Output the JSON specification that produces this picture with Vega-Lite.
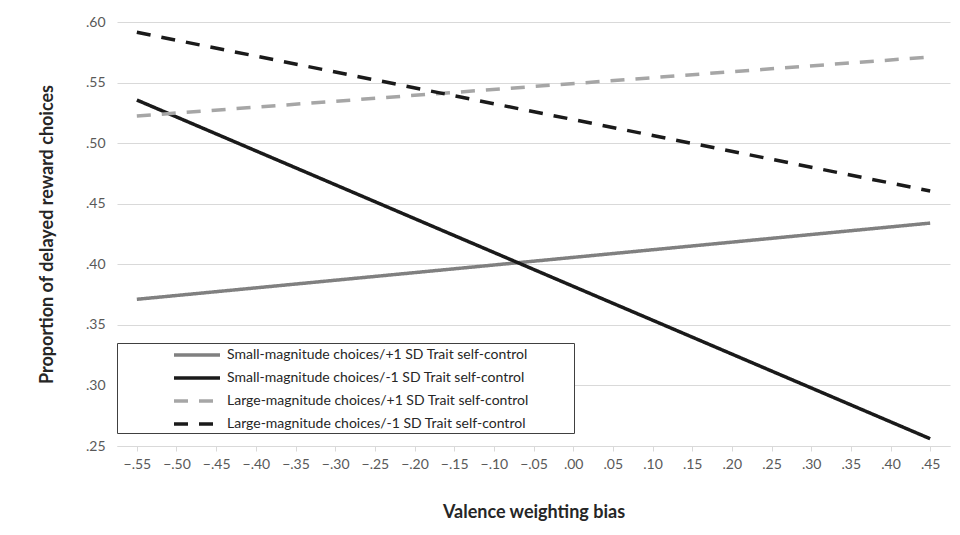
{
  "$schema": "https://vega.github.io/schema/vega-lite/v6.json",
  "width": 833,
  "height": 424,
  "autosize": "none",
  "padding": {"left": 117, "top": 22, "right": 10, "bottom": 89},
  "background": "white",
  "data": {
    "values": [
      {"bias": -0.55, "prop": 0.3711, "series": "Small-magnitude choices/+1 SD Trait self-control"},
      {"bias": 0.45, "prop": 0.4340, "series": "Small-magnitude choices/+1 SD Trait self-control"},
      {"bias": -0.55, "prop": 0.5356, "series": "Small-magnitude choices/-1 SD Trait self-control"},
      {"bias": 0.45, "prop": 0.2560, "series": "Small-magnitude choices/-1 SD Trait self-control"},
      {"bias": -0.55, "prop": 0.5224, "series": "Large-magnitude choices/+1 SD Trait self-control"},
      {"bias": 0.45, "prop": 0.5711, "series": "Large-magnitude choices/+1 SD Trait self-control"},
      {"bias": -0.55, "prop": 0.5915, "series": "Large-magnitude choices/-1 SD Trait self-control"},
      {"bias": 0.45, "prop": 0.4605, "series": "Large-magnitude choices/-1 SD Trait self-control"}
    ]
  },
  "mark": {"type": "line", "strokeWidth": 3.5, "strokeCap": "butt"},
  "encoding": {
    "x": {
      "field": "bias",
      "type": "quantitative",
      "scale": {"domain": [-0.575, 0.475], "nice": false, "zero": false},
      "axis": {
        "title": "Valence weighting bias",
        "values": [-0.55, -0.5, -0.45, -0.4, -0.35, -0.3, -0.25, -0.2, -0.15, -0.1, -0.05, 0, 0.05, 0.1, 0.15, 0.2, 0.25, 0.3, 0.35, 0.4, 0.45],
        "labelExpr": "replace(format(datum.value, '.2f'), '0.', '.')",
        "grid": false,
        "domainColor": "#d9d9d9",
        "tickColor": "#d9d9d9",
        "tickSize": 5,
        "labelPadding": 6,
        "labelFontSize": 14,
        "labelColor": "#595959",
        "labelFont": "Lato",
        "titleFont": "Lato",
        "titleFontSize": 18,
        "titleFontWeight": "bold",
        "titleColor": "#262626",
        "titlePadding": 32
      }
    },
    "y": {
      "field": "prop",
      "type": "quantitative",
      "scale": {"domain": [0.25, 0.6], "nice": false, "zero": false},
      "axis": {
        "title": "Proportion of delayed reward choices",
        "values": [0.25, 0.3, 0.35, 0.4, 0.45, 0.5, 0.55, 0.6],
        "labelExpr": "replace(format(datum.value, '.2f'), '0.', '.')",
        "grid": true,
        "gridColor": "#d9d9d9",
        "domain": false,
        "ticks": false,
        "labelPadding": 12,
        "labelFontSize": 14,
        "labelColor": "#595959",
        "labelFont": "Lato",
        "titleFont": "Lato",
        "titleFontSize": 18,
        "titleFontWeight": "bold",
        "titleColor": "#262626",
        "titlePadding": 29
      }
    },
    "color": {
      "field": "series",
      "type": "nominal",
      "scale": {
        "domain": ["Small-magnitude choices/+1 SD Trait self-control", "Small-magnitude choices/-1 SD Trait self-control", "Large-magnitude choices/+1 SD Trait self-control", "Large-magnitude choices/-1 SD Trait self-control"],
        "range": ["#808080", "#1a1a1a", "#a6a6a6", "#1a1a1a"]
      },
      "legend": {
        "title": null,
        "orient": "none",
        "legendX": 0,
        "legendY": 321,
        "padding": 2,
        "rowPadding": 6,
        "symbolType": "M-2.875,0H2.875",
        "symbolSize": 256,
        "symbolStrokeWidth": 3.5,
        "symbolOffset": 68,
        "labelOffset": 20,
        "labelFont": "Lato",
        "labelFontSize": 14,
        "labelColor": "#262626",
        "labelLimit": 700,
        "labelExpr": "datum.label + '\u00a0\u00a0\u00a0\u00a0\u00a0\u00a0\u00a0\u00a0\u00a0\u00a0\u00a0\u00a0\u200b'",
        "fillColor": "white",
        "strokeColor": "#404040"
      }
    },
    "strokeDash": {
      "field": "series",
      "type": "nominal",
      "scale": {
        "domain": ["Small-magnitude choices/+1 SD Trait self-control", "Small-magnitude choices/-1 SD Trait self-control", "Large-magnitude choices/+1 SD Trait self-control", "Large-magnitude choices/-1 SD Trait self-control"],
        "range": [[1, 0], [1, 0], [14, 11], [14, 11]]
      }
    }
  },
  "config": {
    "view": {"stroke": null}
  }
}
